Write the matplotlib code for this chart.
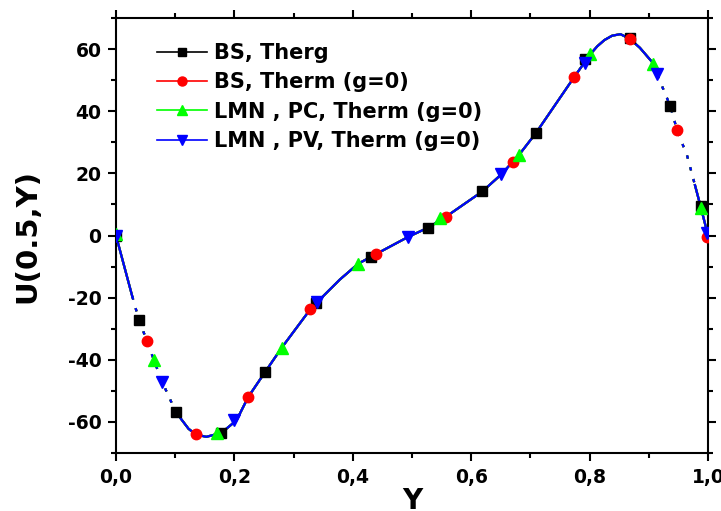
import matplotlib
matplotlib.use("Agg")
import numpy as np
import matplotlib.pyplot as plt
from matplotlib.ticker import MultipleLocator, FuncFormatter

plt.rcParams["font.family"] = "DejaVu Sans"
plt.rcParams["font.weight"] = "bold"

# shared velocity profile (all four runs overlap)
y_curve = [0.000, 0.0275, 0.039, 0.052, 0.064, 0.078, 0.101, 0.1225, 0.1345,
           0.1525, 0.1706, 0.180, 0.2035, 0.2236, 0.252, 0.280, 0.328, 0.339,
           0.378, 0.409, 0.440, 0.494, 0.527, 0.557, 0.619, 0.651, 0.681,
           0.709, 0.774, 0.801, 0.813, 0.825, 0.838, 0.852, 0.868, 0.885,
           0.908, 0.914, 0.936, 0.948, 0.965, 0.978, 0.988, 1.000]
u_curve = [0.0, -19.6, -27.3, -33.8, -40.1, -47.1, -56.8, -62.2, -64.0,
           -64.8, -63.9, -63.2, -59.5, -51.9, -43.9, -36.1, -23.8, -21.6,
           -14.2, -9.1, -5.9, -0.4, 2.5, 6.0, 14.2, 19.7, 26.0,
           32.9, 51.0, 58.3, 60.9, 62.9, 64.3, 64.8, 63.3, 60.4,
           55.3, 51.9, 41.8, 33.8, 25.5, 16.2, 9.0, 0.0]

# marker positions of each series
y_bs_therg = [0.0, 0.039, 0.101, 0.178, 0.252, 0.338, 0.430, 0.5265, 0.619,
              0.709, 0.792, 0.868, 0.936, 0.988]
u_bs_therg = [0.0, -27.3, -56.8, -63.7, -43.9, -21.8, -7.0, 2.5, 14.2,
              32.9, 56.7, 63.6, 41.8, 9.4]

y_bs_therm = [0.0518, 0.1345, 0.2236, 0.328, 0.440, 0.557, 0.671, 0.774,
              0.868, 0.948, 0.999]
u_bs_therm = [-33.8, -64.0, -51.9, -23.8, -5.9, 6.0, 23.6, 51.0,
              63.3, 33.8, -0.4]

y_lmn_pc = [0.0, 0.064, 0.1706, 0.280, 0.409, 0.547, 0.681, 0.801, 0.9077, 0.9876]
u_lmn_pc = [0.5, -40.1, -63.6, -36.1, -9.1, 5.5, 26.0, 58.3, 55.3, 9.0]

y_lmn_pv = [0.0, 0.078, 0.2, 0.339, 0.494, 0.651, 0.792, 0.914, 0.998]
u_lmn_pv = [0.0, -47.1, -59.3, -21.5, -0.4, 19.7, 55.6, 51.9, 0.7]

labels = ["BS, Therg", "BS, Therm (g=0)", "LMN , PC, Therm (g=0)",
          "LMN , PV, Therm (g=0)"]

# steep parts of the profile are drawn dotted in the original
steep = [(0.0275, 0.101), (0.908, 0.978)]

fig = plt.figure(figsize=(7.21, 5.11), dpi=100)
ax = fig.add_axes([116/721, 1 - 453/511, 592/721, 435/511])

yc = np.array(y_curve)
uc = np.array(u_curve)
in_steep = np.zeros(len(yc), bool)
inner = np.zeros(len(yc), bool)
for a, b in steep:
    in_steep |= (yc >= a) & (yc <= b)
    inner |= (yc > a) & (yc < b)
u_solid = np.where(inner, np.nan, uc)
u_dot = np.where(in_steep, uc, np.nan)

series = [
    (y_bs_therg, u_bs_therg, "black", "s", 6.5),
    (y_bs_therm, u_bs_therm, "red", "o", 7.5),
    (y_lmn_pc, u_lmn_pc, "#00FF00", "^", 8),
    (y_lmn_pv, u_lmn_pv, "blue", "v", 8),
]

handles = []
for (ys, us, col, mk, ms), lab in zip(series, labels):
    ax.plot(yc, u_solid, color=col, lw=1.6, zorder=2)
    ax.plot(yc, u_dot, color=col, lw=1.6, ls=(0, (1.5, 4)), zorder=2)
    ax.plot(ys, us, ls="none", marker=mk, ms=ms, color=col, mec=col, zorder=3)
    h, = ax.plot([], [], color=col, lw=1.2, marker=mk, ms=ms - 1, mec=col)
    handles.append(h)

ax.set_xlim(0, 1)
ax.set_ylim(-70, 70)
ax.xaxis.set_major_locator(MultipleLocator(0.2))
ax.xaxis.set_minor_locator(MultipleLocator(0.1))
ax.yaxis.set_major_locator(MultipleLocator(20))
ax.yaxis.set_minor_locator(MultipleLocator(10))
ax.xaxis.set_major_formatter(FuncFormatter(lambda v, p: f"{v:.1f}".replace(".", ",")))
ax.yaxis.set_major_formatter(FuncFormatter(lambda v, p: f"{v:.0f}"))

ax.tick_params(which="both", direction="out", top=True, right=True, width=1.5)
ax.tick_params(which="major", length=6, labelsize=13.5, pad=4.5)
ax.tick_params(which="minor", length=3.5)
for lab in ax.get_xticklabels() + ax.get_yticklabels():
    lab.set_fontweight("bold")
for s in ax.spines.values():
    s.set_linewidth(1.5)

ax.set_xlabel("Y", fontsize=20, fontweight="bold", labelpad=0)
ax.set_ylabel("U(0.5,Y)", fontsize=21, fontweight="bold", labelpad=19)

ax.legend(handles, labels, loc="upper left", bbox_to_anchor=(0.0686, 0.9425),
          frameon=False, borderaxespad=0, borderpad=0, handlelength=2.4,
          handletextpad=0.35, labelspacing=0.45, numpoints=1,
          prop={"size": 15, "weight": "bold"})

fig.savefig("out.png", dpi=100)
